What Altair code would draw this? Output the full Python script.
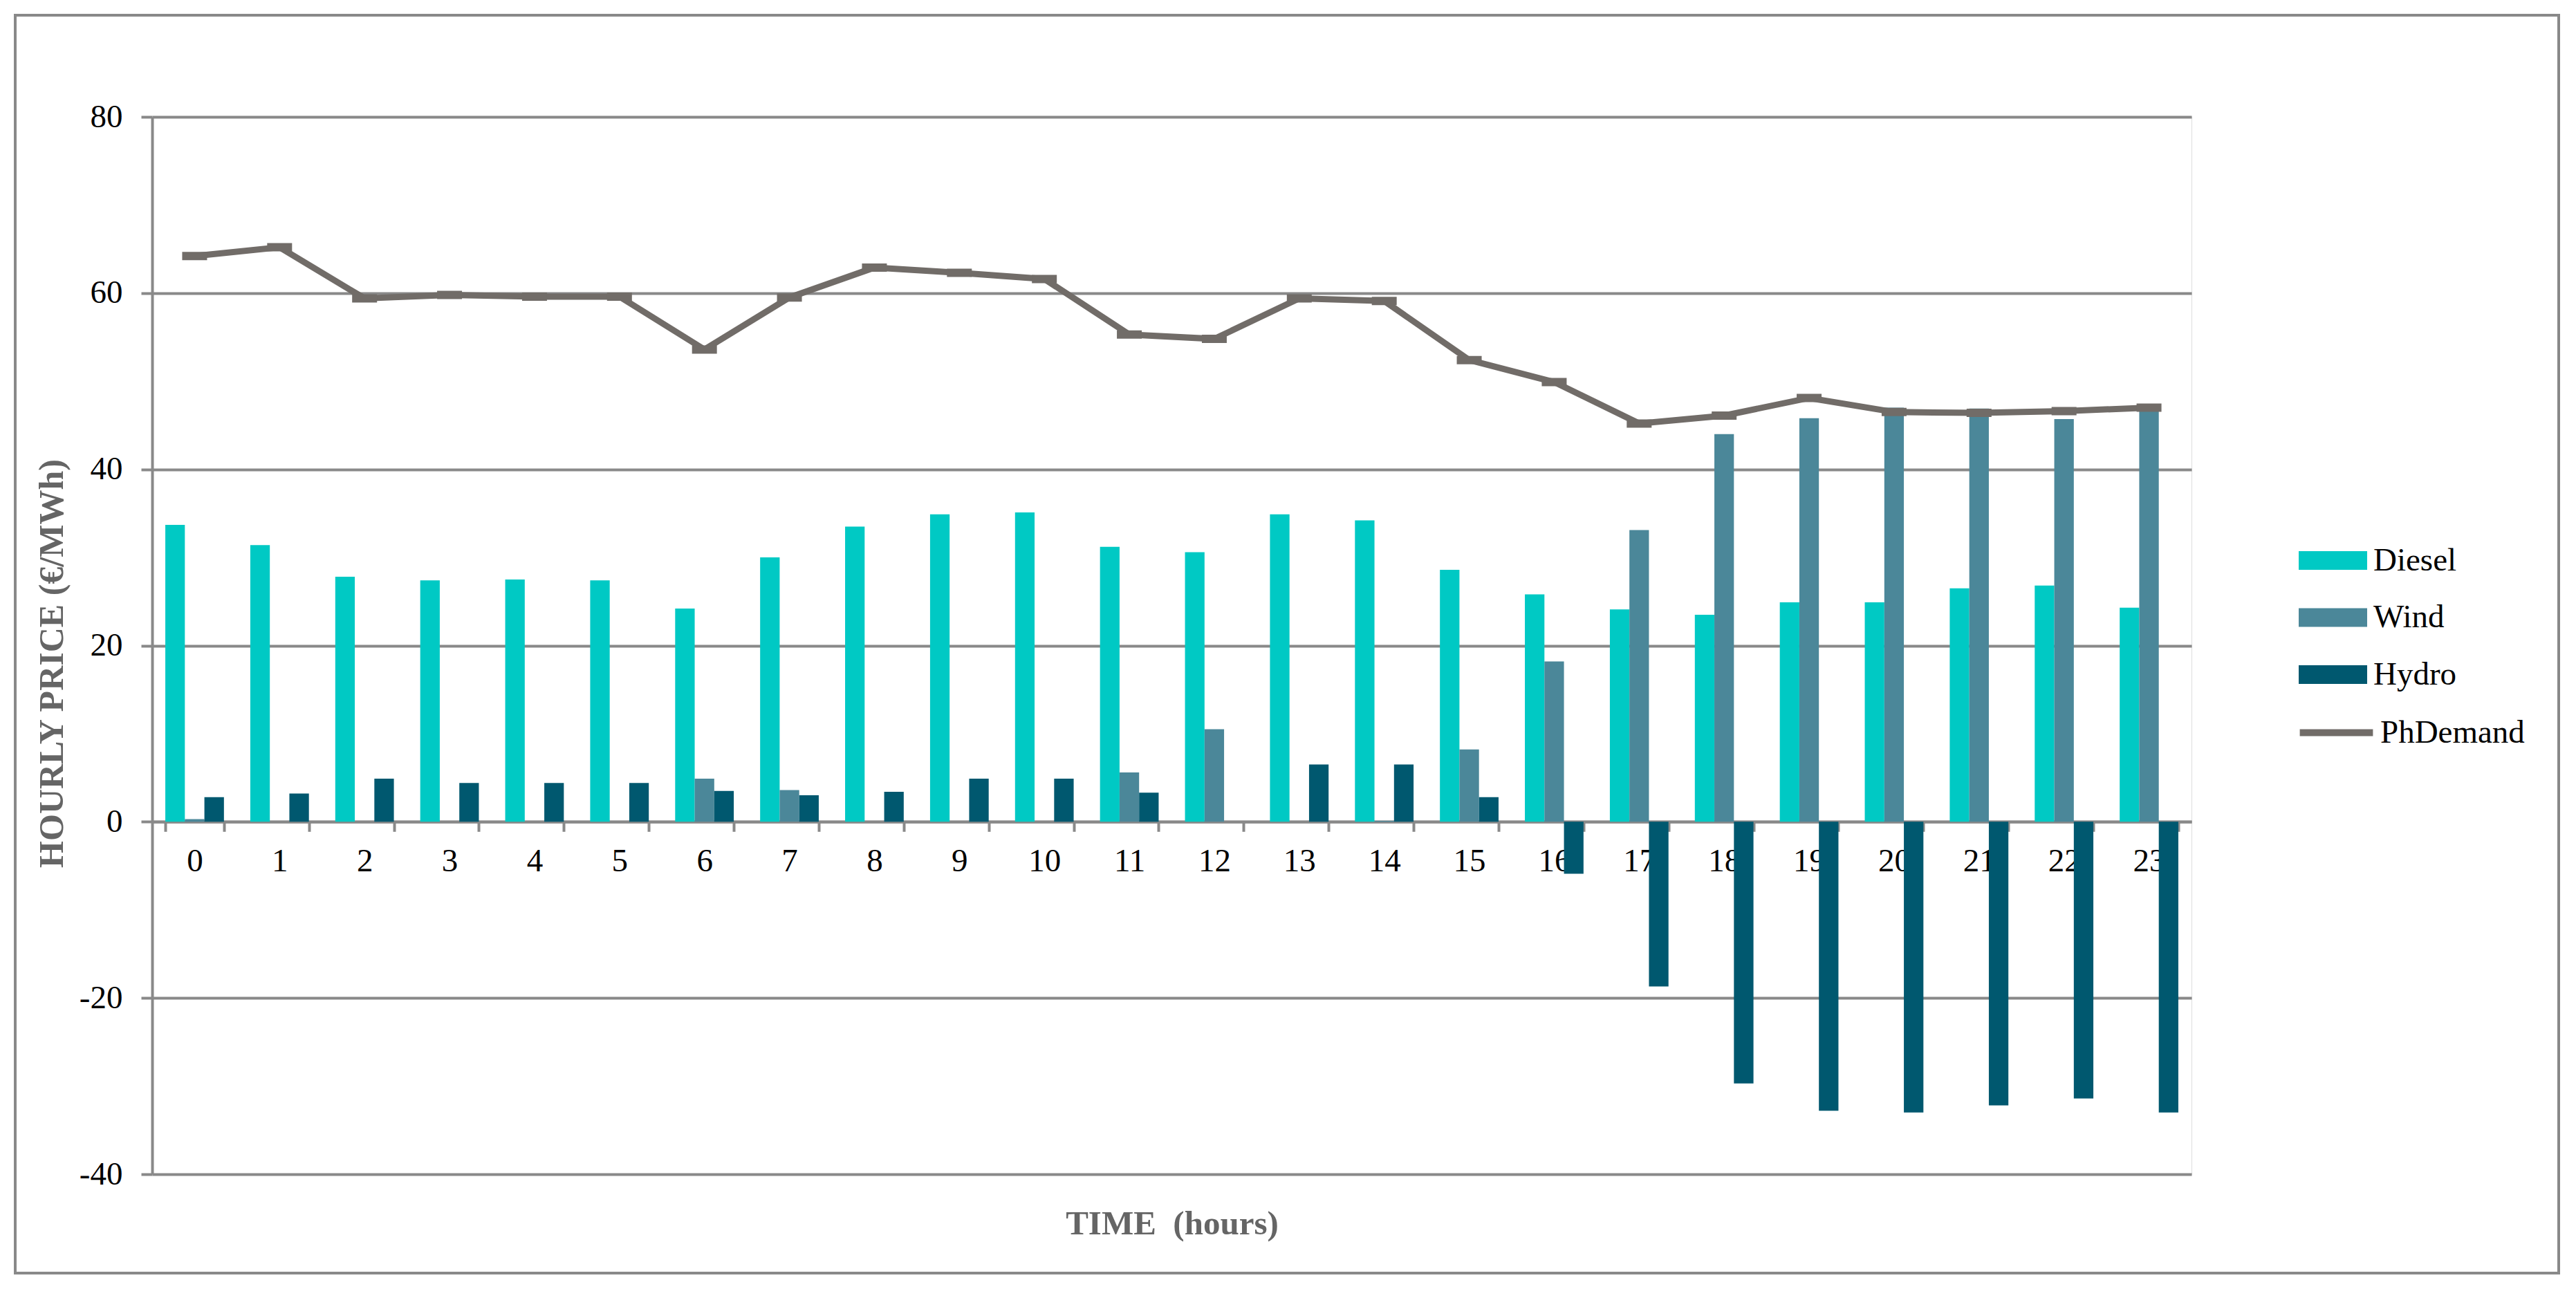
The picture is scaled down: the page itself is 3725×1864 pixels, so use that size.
import altair as alt
import pandas as pd

hours = list(range(24))
diesel = [33.7, 31.4, 27.8, 27.4, 27.5, 27.4, 24.2, 30.0, 33.5, 34.9, 35.1, 31.2,
          30.6, 34.9, 34.2, 28.6, 25.8, 24.1, 23.5, 24.9, 24.9, 26.5, 26.8, 24.3]
wind = [0.3, 0, 0, 0, 0, 0, 4.9, 3.6, 0, 0, 0, 5.6,
        10.5, 0, 0.1, 8.2, 18.2, 33.1, 44.0, 45.8, 47.0, 46.9, 45.7, 46.8]
hydro = [2.8, 3.2, 4.9, 4.4, 4.4, 4.4, 3.5, 3.0, 3.4, 4.9, 4.9, 3.3,
         0, 6.5, 6.5, 2.8, -5.9, -18.7, -29.7, -32.8, -33.0, -32.2, -31.4, -33.0]
demand = [64.2, 65.2, 59.4, 59.8, 59.6, 59.6, 53.6, 59.5, 62.9, 62.3, 61.6, 55.3,
          54.8, 59.4, 59.1, 52.4, 49.9, 45.2, 46.1, 48.1, 46.5, 46.4, 46.6, 47.0]

series = ["Diesel", "Wind", "Hydro"]
bar_colors = ["#00C9C4", "#4B8799", "#00586F"]
line_color = "#716C68"
grid_color = "#898989"

rows = []
for name, vals in zip(series, [diesel, wind, hydro]):
    for h, v in zip(hours, vals):
        rows.append({"hour": h, "series": name, "value": v})
bars_df = pd.DataFrame(rows)
line_df = pd.DataFrame({"hour": hours, "value": demand, "name": ["PhDemand"] * 24})
frame_df = pd.DataFrame({"k": [0]})

W, H = 2949, 1529
FONT = "Liberation Serif"

x_axis = alt.Axis(
    title="TIME\u00a0 (hours)", titleFont=FONT, titleFontSize=49, titleFontWeight="bold",
    titleColor="#656565", titleY=596, titleBaseline="alphabetic",
    labelFont=FONT, labelFontSize=47, labelColor="black", labelAngle=0,
    labelPadding=20, tickSize=14, tickWidth=4, tickColor=grid_color,
    tickBand="extent", domainColor=grid_color, domainWidth=4,
    offset=-H / 3, grid=False,
)
y_axis = alt.Axis(
    title="HOURLY PRICE (€/MWh)", titleFont=FONT, titleFontSize=50, titleFontWeight="bold",
    titleColor="#656565", titleX=-145, titleY=790, titleAngle=270,
    titleBaseline="middle", titleAlign="center",
    values=[-40, -20, 0, 20, 40, 60, 80], labelExpr="'' + datum.value",
    labelFont=FONT, labelFontSize=47, labelColor="black", labelPadding=27,
    tickSize=16, tickWidth=4, tickColor=grid_color,
    domainColor=grid_color, domainWidth=4,
    grid=True, gridColor=grid_color, gridWidth=4,
)
x_scale = alt.Scale(paddingInner=0.31, paddingOuter=0.155)
y_scale = alt.Scale(domain=[-40, 80], nice=False, zero=False)

bars = alt.Chart(bars_df).mark_bar().encode(
    x=alt.X("hour:O", scale=x_scale, axis=x_axis),
    xOffset=alt.XOffset("series:N", sort=series, scale=alt.Scale(domain=series, paddingInner=0, paddingOuter=0)),
    y=alt.Y("value:Q", scale=y_scale, axis=y_axis),
    fill=alt.Fill(
        "series:N", sort=series,
        scale=alt.Scale(domain=series, range=bar_colors),
        legend=alt.Legend(
            title=None, orient="none", legendX=3125, legendY=613,
            symbolType="M-1.75,-0.48H1.75V0.48H-1.75Z", symbolSize=3200,
            symbolStrokeWidth=0, labelFont=FONT, labelFontSize=47,
            labelColor="black", labelOffset=30, rowPadding=30.5, padding=0,
            labelLimit=400,
        ),
    ),
)

line = alt.Chart(line_df).mark_line(strokeWidth=9).encode(
    x=alt.X("hour:O", scale=x_scale, axis=x_axis),
    y=alt.Y("value:Q", scale=y_scale, axis=y_axis),
    stroke=alt.Stroke(
        "name:N",
        scale=alt.Scale(domain=["PhDemand"], range=[line_color]),
        legend=alt.Legend(
            title=None, orient="none", legendX=3125, legendY=857,
            symbolType="M-1.87,0H1.87", symbolSize=3200, symbolStrokeWidth=10,
            labelFont=FONT, labelFontSize=47, labelColor="black",
            labelOffset=30, padding=0, labelLimit=400,
        ),
    ),
)

markers = alt.Chart(line_df).mark_tick(thickness=12, size=36, color=line_color, opacity=1).encode(
    x=alt.X("hour:O", scale=x_scale, axis=x_axis),
    y=alt.Y("value:Q", scale=y_scale, axis=y_axis),
)

frame = alt.Chart(frame_df).mark_rect(fill="transparent", stroke=grid_color, strokeWidth=4).encode(
    x=alt.value(-198), x2=alt.value(3480), y=alt.value(-147), y2=alt.value(1672)
)

chart = alt.layer(bars, line, markers, frame).properties(
    width=W, height=H,
    autosize=alt.AutoSizeParams(type="none"),
    padding={"left": 212, "top": 161, "right": 548, "bottom": 158},
).configure_view(strokeOpacity=0).configure(font=FONT)

chart.save("out.html", embed_options={"renderer": "svg", "actions": False})
